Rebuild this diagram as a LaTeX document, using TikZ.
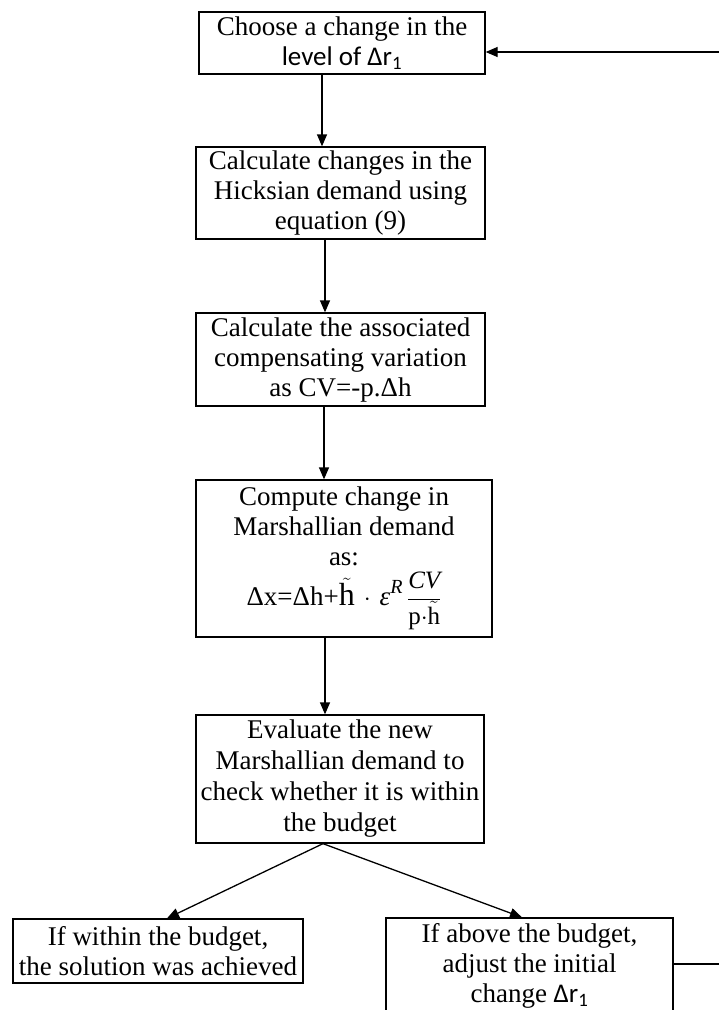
\documentclass[tikz,border=0pt]{standalone}
\usepackage{fontspec}
\setmainfont{Liberation Serif}
\newfontfamily\carl{Carlito}
\usetikzlibrary{arrows.meta}
\newcommand{\htil}{$\tilde{\mbox{h}}$}
\begin{document}
\begin{tikzpicture}[x=1pt,y=-1pt,
  box/.style={draw, line width=1.3pt, inner sep=0pt, align=center,
    font=\fontsize{27}{30}\selectfont},
  arr/.style={line width=1.3pt, -{Triangle[length=12pt,width=10pt]}}]
\useasboundingbox (0,0) rectangle (719,1010);
\node[box, minimum width=286pt, minimum height=62pt] (b1) at (342,43)
  {Choose a change in the\\{\carl level of  Δr\textsubscript{1}}};
\node[box, minimum width=289pt, minimum height=92pt] (b2) at (340.5,193)
  {Calculate changes in the\\Hicksian demand  using\\equation (9)};
\node[box, minimum width=289pt, minimum height=93pt] (b3) at (340.5,359.5)
  {Calculate the associated\\compensating variation\\as CV=-p.Δh};
\node[box, minimum width=296pt, minimum height=157pt] (b4) at (344,558.5)
  {Compute change in\\Marshallian demand\\as:\\[5pt]
   Δx=Δh+{\fontsize{32}{32}\selectfont\htil}\,\,$\cdot$\,\,{\itshape ε}\raisebox{0.45em}{\fontsize{20}{20}\selectfont\itshape R}\,$\displaystyle\frac{\mbox{\fontsize{25}{25}\selectfont\itshape CV}}{\mbox{\fontsize{25}{25}\selectfont\rule{0pt}{0.95em}p$\cdot$\htil}}$};
\node[box, minimum width=288pt, minimum height=128pt, font=\fontsize{27}{31}\selectfont] (b5) at (340,779)
  {Evaluate the new\\Marshallian  demand to\\check whether it is within\\the budget};
\node[box, minimum width=290pt, minimum height=64pt] (b6) at (158,951)
  {If within the budget,\\the solution was achieved};
\node[box, minimum width=287pt, minimum height=96pt] (b7) at (529.5,966)
  {If above the budget,\\adjust the initial\\change {\carl Δr\textsubscript{1}}};
\draw[arr] ([xshift=-20pt]b1.south) -- ([xshift=-20pt]b1.south |- b2.north);
\draw[arr] ([xshift=-15.5pt]b2.south) -- ([xshift=-15.5pt]b2.south |- b3.north);
\draw[arr] ([xshift=-16.5pt]b3.south) -- ([xshift=-16.5pt]b3.south |- b4.north);
\draw[arr] ([xshift=-19pt]b4.south) -- ([xshift=-19pt]b4.south |- b5.north);
\draw[arr] ([xshift=-17pt]b5.south) -- ([xshift=9pt]b6.north);
\draw[arr] ([xshift=-17pt]b5.south) -- ([xshift=-7.5pt]b7.north);
\draw[arr] ([yshift=2pt]b7.east) -- ++(70,0) |- ([yshift=-9pt]b1.east);
\end{tikzpicture}
\end{document}
